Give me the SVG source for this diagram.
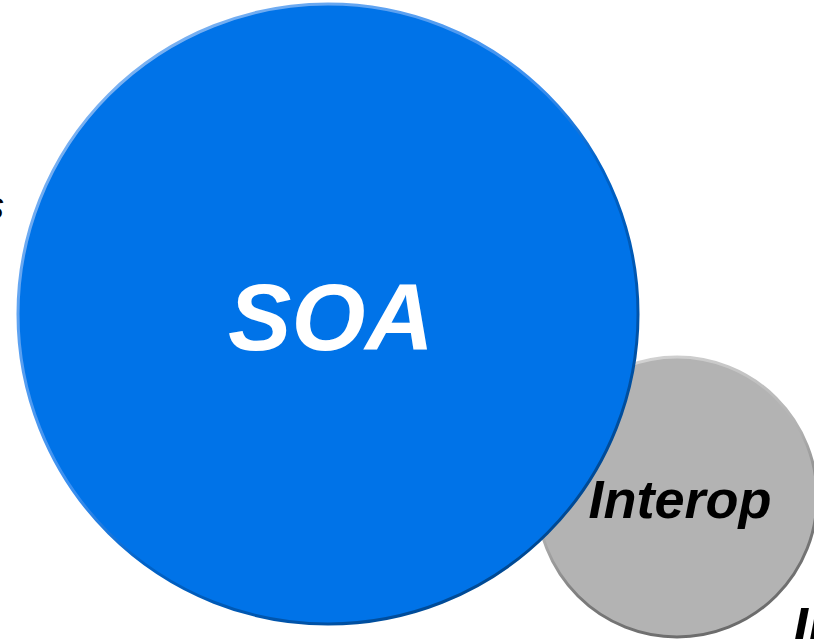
<svg xmlns="http://www.w3.org/2000/svg" width="814" height="639" viewBox="0 0 814 639">
<style>
.lbl{font-family:"Liberation Sans",Arial,sans-serif;font-weight:bold;font-style:italic}
.frag{font-family:"Liberation Sans",Arial,sans-serif;font-style:italic;fill:#000}
</style>
<defs>
<linearGradient id="blueEdge" x1="0.15" y1="0.1" x2="0.85" y2="0.9">
<stop offset="0" stop-color="#7db3f2"/>
<stop offset="0.45" stop-color="#3a8ff0"/>
<stop offset="0.6" stop-color="#0062c8"/>
<stop offset="1" stop-color="#00478f"/>
</linearGradient>
<linearGradient id="grayEdge" x1="0.3" y1="0" x2="0.7" y2="1">
<stop offset="0" stop-color="#d4d4d4"/>
<stop offset="0.45" stop-color="#b0b0b0"/>
<stop offset="0.7" stop-color="#7a7a7a"/>
<stop offset="1" stop-color="#6a6a6a"/>
</linearGradient>
</defs>
<rect width="814" height="639" fill="#ffffff"/>
<text class="frag" x="4" y="219" font-size="38" text-anchor="end">s</text>
<g id="interop">
<circle cx="677" cy="497" r="140" fill="#b3b3b3" stroke="url(#grayEdge)" stroke-width="3"/>
<text class="lbl" x="680" y="518" font-size="54" fill="#000" text-anchor="middle">Interop</text>
</g>
<g id="soa">
<circle cx="328" cy="314" r="310" fill="#0073e8" stroke="url(#blueEdge)" stroke-width="3"/>
<text class="lbl" x="331" y="350" font-size="95" fill="#ffffff" text-anchor="middle">SOA</text>
</g>
<text class="lbl" x="793" y="645" font-size="54" fill="#000">In</text>
<g id="connectors"/>
</svg>
